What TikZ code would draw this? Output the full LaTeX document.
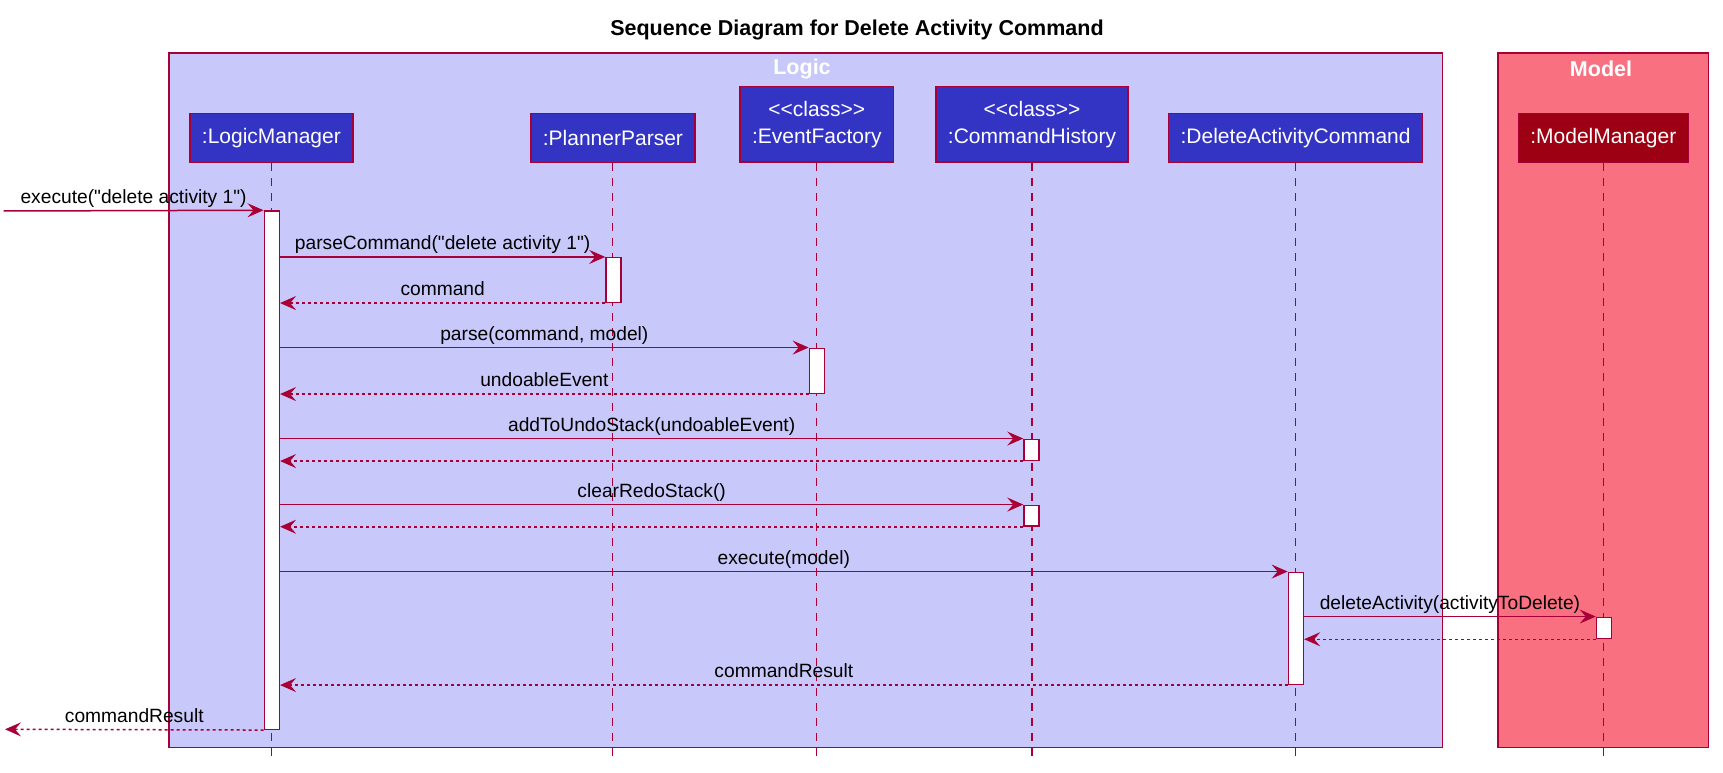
\documentclass[tikz,border=0pt]{standalone}
\usepackage{fontspec}
\setmainfont{Liberation Sans}
\usetikzlibrary{arrows.meta,positioning}

\definecolor{seqred}{HTML}{A80036}
\definecolor{logicfill}{HTML}{C8C8FA}
\definecolor{partblue}{HTML}{3333C4}
\definecolor{modelfill}{HTML}{F97181}
\definecolor{mmfill}{HTML}{9D0012}

\newcommand\MsgFont{\fontsize{19.2}{23}\selectfont}
\newcommand\PartFont{\fontsize{21}{27}\selectfont}
\newcommand\TitleFont{\fontsize{21.5}{26}\selectfont\bfseries}
\newcommand\LifeEnd{756}
\newcommand\Q{\textquotedbl}
\newcommand\Stereo{{<}{<}class{>}{>}}

\tikzset{
  participant/.style={
    draw = seqred,
    fill = partblue,
    text = white,
    line width = 1.5pt,
    inner xsep = 12pt,
    minimum height = 48.6pt,
    align = center,
    font = \PartFont
  },
}
\tikzset{
  act/.style={
    draw = seqred,
    fill = white,
    line width = 1.5pt,
    minimum width = 15pt,
    inner sep = 0pt
  },
}
\tikzset{
  pkg/.style={
    draw = seqred,
    line width = 1.5pt
  },
  pkglabel/.style={
    text = white,
    font = \TitleFont
  },
  lifeline/.style={
    draw = seqred,
    line width = 1.1pt,
    dash pattern = on 8pt off 7pt
  },
  msg/.style={
    draw = seqred,
    line width = 1.5pt,
    -{Stealth[length=16pt,width=14pt,inset=6pt]}
  },
  ret/.style={
    msg,
    dash pattern = on 3pt off 3pt
  },
  msglabel/.style={
    anchor = base,
    yshift = 7.5pt,
    text = black,
    inner sep = 0pt,
    font = \MsgFont
  }
}

\begin{document}
\begin{tikzpicture}[x=1pt,y=-1pt]
    \useasboundingbox (0,0) rectangle (1723,773);

    \node[font=\TitleFont] (title) at (857,30) {Sequence Diagram for Delete Activity Command};

    % boxes
    \draw[pkg, fill=logicfill] (169.2,52.9) rectangle (1442.5,747.3);
    \draw[pkg, fill=modelfill] (1498,52.9) rectangle (1708.7,747.3);
    \node[pkglabel] (logic) at (802,69) {Logic};
    \node[pkglabel] (model) at (1601,69) {Model};

    % participants
    \node[participant] (pLM) at (271.4,138) {:LogicManager};
    \node[participant] (pPP) at (612.9,138) {:PlannerParser};
    \node[participant, minimum height=75.3pt] (pEF) at (816.8,124.4) {\Stereo\\:EventFactory};
    \node[participant, minimum height=75.3pt] (pCH) at (1032,124.4) {\Stereo\\:CommandHistory};
    \node[participant] (pDAC) at (1295.6,138) {:DeleteActivityCommand};
    \node[participant, fill=mmfill] (pMM) at (1603.3,138) {:ModelManager};

    \coordinate (eLM) at (271.4,\LifeEnd);
    \coordinate (ePP) at (612.9,\LifeEnd);
    \coordinate (eEF) at (816.8,\LifeEnd);
    \coordinate (eCH) at (1032,\LifeEnd);
    \coordinate (eDAC) at (1295.6,\LifeEnd);
    \coordinate (eMM) at (1603.3,\LifeEnd);
    \foreach \p in {LM,PP,EF,CH,DAC,MM}
        \draw[lifeline] (p\p) -- (e\p);

    % activations
    \node[act, minimum height=518.3pt] (aLM) at (271.8,470.15) {};
    \node[act, minimum height=44.6pt] (aPP) at (613.5,280) {};
    \node[act, minimum height=45pt] (aEF) at (816.9,370.8) {};
    \node[act, minimum height=21pt] (aCH1) at (1031.5,449.8) {};
    \node[act, minimum height=20.7pt] (aCH2) at (1031.5,515.65) {};
    \node[act, minimum height=112pt] (aDAC) at (1295.9,628.3) {};
    \node[act, minimum height=21.2pt] (aMM) at (1604,627.9) {};

    \coordinate (inL) at (3.6,211);
    \coordinate (outL) at (5,729.3);

    % messages
    \draw[msg] (inL) -- (aLM.north west)
        node[msglabel, midway] {execute(\Q delete activity 1\Q)};
    \draw[msg] (aLM.east |- aPP.north) -- (aPP.north west)
        node[msglabel, midway] {parseCommand(\Q delete activity 1\Q)};
    \draw[ret] (aPP.south west) -- (aLM.east |- aPP.south)
        node[msglabel, midway] {command};
    \draw[msg] (aLM.east |- aEF.north) -- (aEF.north west)
        node[msglabel, midway] {parse(command, model)};
    \draw[ret] (aEF.south west) -- (aLM.east |- aEF.south)
        node[msglabel, midway] {undoableEvent};
    \draw[msg] (aLM.east |- aCH1.north) -- (aCH1.north west)
        node[msglabel, midway] {addToUndoStack(undoableEvent)};
    \draw[ret] (aCH1.south west) -- (aLM.east |- aCH1.south);
    \draw[msg] (aLM.east |- aCH2.north) -- (aCH2.north west)
        node[msglabel, midway] {clearRedoStack()};
    \draw[ret] (aCH2.south west) -- (aLM.east |- aCH2.south);
    \draw[msg] (aLM.east |- aDAC.north) -- (aDAC.north west)
        node[msglabel, midway] {execute(model)};
    \draw[msg] (aDAC.east |- aMM.north) -- (aMM.north west)
        node[msglabel, midway] {deleteActivity(activityToDelete)};
    \draw[ret] (aMM.south west) -- (aDAC.east |- aMM.south);
    \draw[ret] (aDAC.south west) -- (aLM.east |- aDAC.south)
        node[msglabel, midway] {commandResult};
    \draw[ret] (aLM.south west) -- (outL)
        node[msglabel, midway] {commandResult};
\end{tikzpicture}
\end{document}
